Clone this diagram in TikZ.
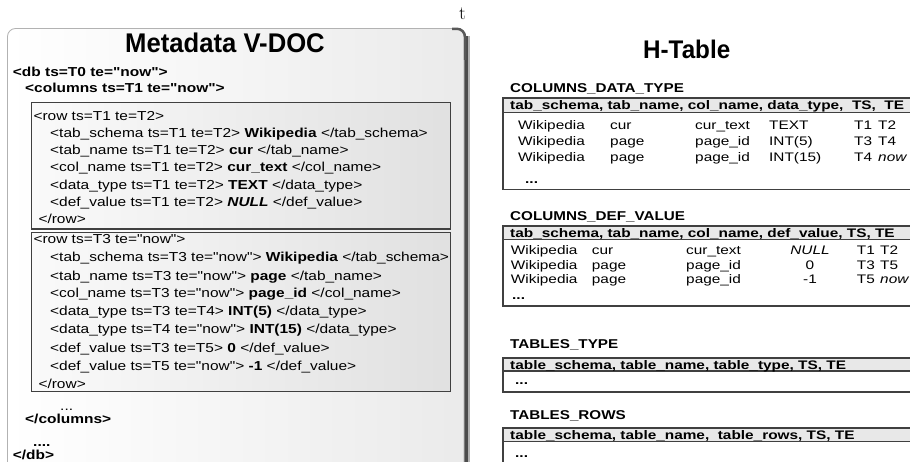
\documentclass[tikz,border=0pt]{standalone}
\usepackage{fontspec}
\newfontfamily\xmlfont{Liberation Sans}[FakeStretch=1.19]
\newfontfamily\tabfont{Liberation Sans}[FakeStretch=1.24]
\newfontfamily\titlefont{Liberation Sans}[FakeStretch=0.95]
\begin{document}
\begin{tikzpicture}[x=1pt,y=-1pt,
  xml/.style={anchor=base west,inner sep=0pt,font=\xmlfont\fontsize{13}{15}\selectfont},
  xmlb/.style={xml,font=\xmlfont\bfseries\fontsize{13}{15}\selectfont},
  title/.style={anchor=base,inner sep=0pt,font=\titlefont\bfseries\fontsize{27}{30}\selectfont},
  tlabel/.style={xml,font=\xmlfont\bfseries\fontsize{12.8}{15}\selectfont},
  thead/.style={anchor=base west,inner sep=0pt,font=\tabfont\bfseries\fontsize{12.4}{14}\selectfont},
  tcell/.style={anchor=base west,inner sep=0pt,font=\tabfont\fontsize{12.4}{14}\selectfont},
  tdots/.style={tcell,font=\tabfont\bfseries\fontsize{12.4}{14}\selectfont},
  tcellc/.style={tcell,anchor=base},
  rowbox/.style={draw=black!75,line width=1.1pt,left color=gray!4,right color=gray!24},
  headbox/.style={draw=black!75,line width=1.4pt,fill=gray!18},
  bodybox/.style={draw=black!75,line width=1.1pt,fill=white},
]
\useasboundingbox (0,0) rectangle (910,462);

% stray time axis letter
\node[anchor=base,inner sep=0pt,font=\fontsize{19}{22}\selectfont] (tmark) at (462.5,20) {t};

% ---------------- Metadata V-DOC panel ----------------
\draw[line width=7pt,black!30] (466,36) -- (466,475);
\draw[line width=4pt,black!70] (466,36) -- (466,475);
\path[draw=gray!60,line width=0.8pt,rounded corners=8pt,left color=white,right color=gray!16]
  (7.5,475) -- (7.5,28.5) -- (464,28.5) -- (464,475);
\draw[line width=2.5pt,black!65,rounded corners=8pt] (452,28.8) -- (465,28.8) -- (465,60);

\node[title] (vdoc) at (225,53) {Metadata V-DOC};

\node[xmlb] (db) at (12.7,76.2) {<db ts=T0 te="now">};
\node[xmlb] (cols) at (25,92.8) {<columns ts=T1 te="now">};

% first row
\path[rowbox] (31.7,102.7) rectangle (450.7,229);
\node[xml] (r1a) at (33.3,121) {<row ts=T1 te=T2>};
\node[xml] (r1b) at (50,138) {<tab\_schema ts=T1 te=T2> \textbf{Wikipedia} </tab\_schema>};
\node[xml] (r1c) at (50,155) {<tab\_name ts=T1 te=T2> \textbf{cur} </tab\_name>};
\node[xml] (r1d) at (50,172) {<col\_name ts=T1 te=T2> \textbf{cur\_text} </col\_name>};
\node[xml] (r1e) at (50,189.5) {<data\_type ts=T1 te=T2> \textbf{TEXT} </data\_type>};
\node[xml] (r1f) at (50,206.5) {<def\_value ts=T1 te=T2> \textbf{\itshape NULL} </def\_value>};
\node[xml] (r1g) at (38.3,223.5) {</row>};

% second row
\path[rowbox] (31.7,232.3) rectangle (450.7,391.7);
\node[xml] (r2a) at (33.3,244) {<row ts=T3 te="now">};
\node[xml] (r2b) at (50,262) {<tab\_schema ts=T3 te="now"> \textbf{Wikipedia} </tab\_schema>};
\node[xml] (r2c) at (50,280) {<tab\_name ts=T3 te="now"> \textbf{page} </tab\_name>};
\node[xml] (r2d) at (50,298) {<col\_name ts=T3 te="now"> \textbf{page\_id} </col\_name>};
\node[xml] (r2e) at (50,316) {<data\_type ts=T3 te=T4> \textbf{INT(5)} </data\_type>};
\node[xml] (r2f) at (50,334) {<data\_type ts=T4 te="now"> \textbf{INT(15)} </data\_type>};
\node[xml] (r2g) at (50,352) {<def\_value ts=T3 te=T5> \textbf{0} </def\_value>};
\node[xml] (r2h) at (50,370) {<def\_value ts=T5 te="now"> \textbf{-1} </def\_value>};
\node[xml] (r2i) at (38.3,388) {</row>};

\node[xml] (dots1) at (60,410) {...};
\node[xmlb] (ecols) at (25,423.5) {</columns>};
\node[xmlb] (dots2) at (33,446) {....};
\node[xmlb] (edb) at (12.7,459.5) {</db>};

% ---------------- H-Table panel ----------------
\node[anchor=base,inner sep=0pt,font=\titlefont\bfseries\fontsize{25.5}{28}\selectfont] (htab) at (686.7,58.3) {H-Table};

% COLUMNS_DATA_TYPE
\node[tlabel] (l1) at (510,93) {COLUMNS\_DATA\_TYPE};
\path[bodybox] (503,112.5) rectangle (918,189.5);
\path[headbox] (503,98) rectangle (918,112.5);
\node[thead] (h1) at (510,109.5) {tab\_schema, tab\_name, col\_name, data\_type,\ \ TS,\ \ TE};
\foreach \y/\a/\b/\c/\d/\e/\f [count=\i] in
  {129.5/Wikipedia/cur/cur\_text/TEXT/T1/T2,
   146/Wikipedia/page/page\_id/INT(5)/T3/T4,
   161.5/Wikipedia/page/page\_id/INT(15)/T4/\textit{now}}{
  \node[tcell] (a\i) at (518,\y) {\a};
  \node[tcell] (b\i) at (610,\y) {\b};
  \node[tcell] (c\i) at (695,\y) {\c};
  \node[tcell] (d\i) at (769,\y) {\d};
  \node[tcell] (e\i) at (854,\y) {\e};
  \node[tcell] (f\i) at (878,\y) {\f};
}
\node[tdots] (m1) at (525,184) {...};

% COLUMNS_DEF_VALUE
\node[tlabel] (l2) at (510,220.7) {COLUMNS\_DEF\_VALUE};
\path[bodybox] (503,239.5) rectangle (918,306);
\path[headbox] (503,226) rectangle (918,239.5);
\node[thead] (h2) at (510,237.5) {tab\_schema, tab\_name, col\_name, def\_value, TS, TE};
\foreach \y/\a/\b/\c/\d/\e/\f [count=\i] in
  {255/Wikipedia/cur/cur\_text/\textit{NULL}/T1/T2,
   269.5/Wikipedia/page/page\_id/0/T3/T5,
   283.5/Wikipedia/page/page\_id/-1/T5/\textit{now}}{
  \node[tcell] (p\i) at (510.7,\y) {\a};
  \node[tcell] (q\i) at (591.7,\y) {\b};
  \node[tcell] (s\i) at (686,\y) {\c};
  \node[tcellc] (u\i) at (810,\y) {\d};
  \node[tcell] (v\i) at (856.7,\y) {\e};
  \node[tcell] (w\i) at (880,\y) {\f};
}
\node[tdots] (m2) at (512,300) {...};

% TABLES_TYPE
\node[tlabel] (l3) at (510,348) {TABLES\_TYPE};
\path[bodybox] (503,371) rectangle (918,392);
\path[headbox] (503,358) rectangle (918,371);
\node[thead] (h3) at (510,369) {table\_schema, table\_name, table\_type, TS, TE};
\node[tdots] (m3) at (515,384) {...};

% TABLES_ROWS
\node[tlabel] (l4) at (510,419) {TABLES\_ROWS};
\path[bodybox] (503,441.5) rectangle (918,475);
\path[headbox] (503,428) rectangle (918,441.5);
\node[thead] (h4) at (510,439.5) {table\_schema, table\_name,\ \ table\_rows, TS, TE};
\node[tdots] (m4) at (515,457.5) {...};
\end{tikzpicture}
\end{document}
